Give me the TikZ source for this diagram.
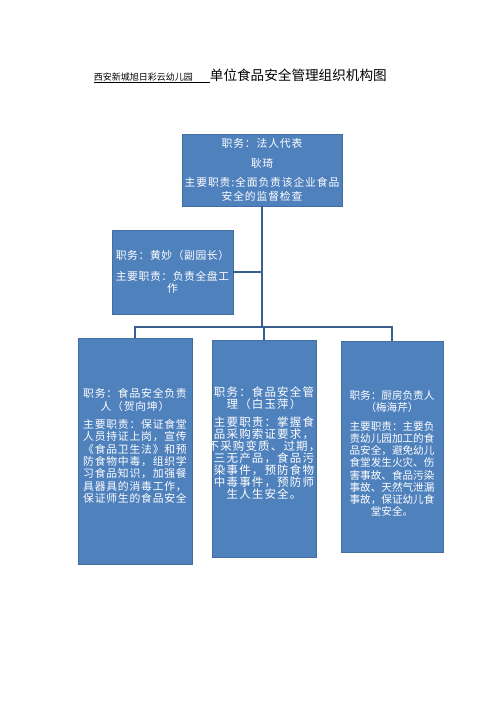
\documentclass[tikz,border=0pt]{standalone}
\usepackage{fontspec}
\newfontfamily\cjk{Noto Sans CJK SC}
\definecolor{boxblue}{HTML}{4F81BD}
\definecolor{lineblue}{HTML}{3A5F8E}
\newcommand\boxfont[3]{\cjk\fontsize{#1}{#2}\selectfont\addfontfeature{LetterSpace=#3}}
\begin{document}
\begin{tikzpicture}[x=1pt,y=-1pt,line width=1.8pt,
          every node/.style={inner sep=0pt,font=\boxfont{10.8}{12.3}{0}},
          post/.style={fill=boxblue,draw=boxblue!85!black,line width=0.4pt,text=white,align=center},
          link/.style={draw=lineblue}]
          \useasboundingbox(0,0)rectangle(500,708);
          \node[anchor=base west,font=\cjk](title)at(93,80.5){{\fontsize{9}{9}\selectfont\underline{西安新城旭日彩云幼儿园\hspace{17pt}}}{\fontsize{13.6}{14}\selectfont 单位食品安全管理组织机构图}};
          \node[post,minimum width=160pt,minimum height=72pt,font=\boxfont{10.8}{14}{8}](boss)at(262,170)
            {职务：法人代表\\[5.5pt]耿琦\\[5.5pt]主要职责:全面负责该企业食品\\安全的监督检查};
          \node[post,minimum width=121pt,minimum height=84pt,font=\boxfont{10.8}{12.3}{5.5}](deputy)at(172.5,272)
            {职务：黄妙（副园长）\\[8.5pt]主要职责：负责全盘工\\作};
          \node[post,minimum width=114pt,minimum height=226pt,font=\boxfont{10.8}{12.3}{7.4}](food)at(135,451)
            {职务：食品安全负责\\人（贺向坤）\\[6pt]主要职责：保证食堂\\人员持证上岗，宣传\\《食品卫生法》和预\\防食物中毒，组织学\\习食品知识，加强餐\\具器具的消毒工作，\\保证师生的食品安全\rule[-11pt]{0pt}{11pt}};
          \node[post,minimum width=104pt,minimum height=217pt,font=\boxfont{11.5}{12}{10}](buyer)at(264,448.5)
            {职务：食品安全管\\理（白玉萍）\\[6pt]主要职责：掌握食\\品采购索证要求，\\\makebox[100pt]{不采购变质、过期，}\\三无产品，食品污\\染事件，预防食物\\中毒事件，预防师\\生人生安全。\rule[-12pt]{0pt}{12pt}};
          \node[post,minimum width=102pt,minimum height=211pt,font=\boxfont{10.6}{12.2}{0}](kitchen)at(392,446.5)
            {\rule{0pt}{23pt}职务：厨房负责人\\（梅海芹）\\[6.5pt]主要职责：主要负\\责幼儿园加工的食\\品安全，避免幼儿\\食堂发生火灾、伤\\害事故、食品污染\\事故、天然气泄漏\\事故，保证幼儿食\\堂安全。};
          \coordinate(bar)at(262,327);
          \draw[link](boss.south)--(bar);
          \draw[link](deputy.east)--(deputy.east-|bar);
          \draw[link](food.north)|-(bar)-|(kitchen.north);
          \draw[link](buyer.north)--(buyer.north|-bar);
        \end{tikzpicture}
\end{document}
